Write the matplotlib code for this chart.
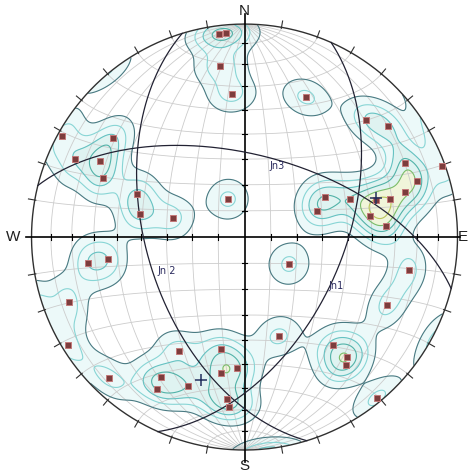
import numpy as np
import matplotlib.pyplot as plt
from matplotlib.patches import Circle

# poles to joints, lower hemisphere (trend, plunge in degrees)
pole_trend = [352.8, 354.8, 351.8, 355.0, 299.0, 307.0, 294.7, 297.8, 292.6, 291.8,
              282.4, 284.8, 336.5, 23.7, 46.1, 52.3, 65.3, 70.2, 72.0, 74.4,
              63.6, 70.2, 74.3, 75.4, 70.3, 80.5, 85.6, 260.6, 260.9, 249.7,
              238.6, 223.9, 209.9, 210.8, 209.9, 200.8, 191.8, 189.8, 186.2, 185.2,
              121.3, 101.4, 115.5, 160.8, 140.7, 139.5, 141.6, 140.6, 183.3]
pole_plunge = [4.5, 4.3, 20.0, 33.1, 2.4, 23.7, 13.5, 24.4, 28.8, 44.8,
               48.4, 61.6, 74.2, 29.0, 21.9, 15.9, 18.2, 1.7, 15.9, 22.8,
               55.3, 46.3, 36.1, 30.1, 60.4, 40.1, 33.8, 26.4, 35.4, 13.1,
               3.2, 9.1, 38.3, 24.5, 18.7, 26.1, 45.4, 35.5, 24.5, 21.0,
               70.1, 22.3, 26.8, 49.3, 34.8, 26.8, 24.3, 2.4, 38.4]

# joint sets drawn as great circles (strike RHR, dip)
set_names = ['Jn1', 'Jn 2', 'Jn3']
set_strike = [24, 163, 284]
set_dip = [52, 52, 58]

# mean markers
mean_trend = [196.9, 73.5]
mean_plunge = [30.6, 35.8]

density_levels = [0.45, 0.9, 1.35, 1.8, 2.25, 2.7]


def line_vec(trend, plunge):
    t = np.radians(trend)
    p = np.radians(plunge)
    return np.column_stack([np.cos(p) * np.sin(t), np.cos(p) * np.cos(t), np.sin(p)])


def project(v):
    # Lambert equal-area (Schmidt), lower hemisphere; v = (east, north, down)
    f = 1.0 / np.sqrt(1.0 + v[:, 2])
    return v[:, 0] * f, v[:, 1] * f


def plane_vecs(strike, dip, n=300):
    s = np.radians(strike)
    d = np.radians(dip)
    sv = np.array([np.sin(s), np.cos(s), 0.0])
    dv = np.array([np.cos(d) * np.sin(s + np.pi / 2), np.cos(d) * np.cos(s + np.pi / 2), np.sin(d)])
    rho = np.linspace(0, np.pi, n)
    return np.outer(np.cos(rho), sv) + np.outer(np.sin(rho), dv)


def small_circle_ns(alpha, n=300):
    a = np.radians(alpha)
    phi = np.linspace(0, np.pi, n)
    return np.column_stack([np.sin(a) * np.cos(phi), np.full(n, np.cos(a)), np.sin(a) * np.sin(phi)])


fig = plt.figure(figsize=(4.69, 4.76), dpi=100)
ax = fig.add_axes([0, 0, 1, 1])
ax.set_xlim(-1.148, 1.054)
ax.set_ylim(-1.122, 1.113)
ax.axis('off')

clip = Circle((0, 0), 1.0, transform=ax.transData)

# density (Fisher kernel, axial data)
g = np.linspace(-1, 1, 401)
GX, GY = np.meshgrid(g, g)
r2 = GX ** 2 + GY ** 2
inside = r2 <= 1.0
dd = 1.0 - np.clip(r2, 0, 1)
sq = np.sqrt(1.0 + dd)
gv = np.stack([GX * sq, GY * sq, dd], axis=-1).reshape(-1, 3)
P = line_vec(pole_trend, pole_plunge)
kappa = 91.0
dots = np.abs(gv @ P.T)
D = np.exp(kappa * (dots - 1.0)).sum(axis=1).reshape(GX.shape)
D = np.where(inside, D, np.nan)

cf = ax.contourf(GX, GY, D, levels=[0.45, 1.35, 2.25, 99],
                 colors=['#ecf9f9', '#dff3f1', '#f0f5da'], zorder=1)
cf.set_clip_path(clip)

# Schmidt net grid
grid_kw = dict(color='#cccccc', lw=0.6, zorder=2)
for dip in range(10, 90, 10):
    for strike in (0, 180):
        x, y = project(plane_vecs(strike, dip))
        ax.plot(x, y, **grid_kw)
for alpha in list(range(10, 90, 10)) + list(range(100, 180, 10)):
    x, y = project(small_circle_ns(alpha))
    ax.plot(x, y, **grid_kw)

line_colors = ['#4a7a82', '#88d5d5', '#66c2c2', '#52b2a8', '#78bc6c', '#bac459']
cs = ax.contour(GX, GY, D, levels=density_levels, colors=line_colors, linewidths=0.8, zorder=3)
cs.set_clip_path(clip)

# primitive and its ticks
th = np.linspace(0, 2 * np.pi, 720)
ax.plot(np.cos(th), np.sin(th), color='#303030', lw=1.0, zorder=5)
for az in range(0, 360, 10):
    if az % 90 == 0:
        continue
    a = np.radians(az)
    ax.plot([0.995 * np.sin(a), 1.03 * np.sin(a)], [0.995 * np.cos(a), 1.03 * np.cos(a)],
            color='#303030', lw=0.8, zorder=5)

# axes with 10 degree ticks
ax.plot([0, 0], [-1.056, 1.047], color='black', lw=1.2, zorder=5)
ax.plot([-1.026, 1.012], [0, 0], color='black', lw=1.2, zorder=5)
for t in range(10, 90, 10):
    r = np.sqrt(2) * np.sin(np.radians(t) / 2)
    for s in (-1, 1):
        ax.plot([s * r, s * r], [-0.012, 0.012], color='black', lw=0.8, zorder=5)
        ax.plot([-0.012, 0.012], [s * r, s * r], color='black', lw=0.8, zorder=5)

# joint-set great circles
for strike, dip in zip(set_strike, set_dip):
    x, y = project(plane_vecs(strike, dip))
    ax.plot(x, y, color='#222233', lw=0.9, zorder=6)

lab_pos = [(0.43, -0.23), (-0.365, -0.16), (0.155, 0.333)]
for name, (lx, ly) in zip(set_names, lab_pos):
    ax.text(lx, ly, name, fontsize=7, color='#2b2b5e', ha='center', va='center',
            fontfamily='DejaVu Sans', zorder=8)

# poles
px, py = project(P)
ax.plot(px, py, 's', ms=4.3, mfc='#7c3d3d', mec='#c47a7a', mew=0.7, zorder=7)

mx, my = project(line_vec(mean_trend, mean_plunge))
ax.plot(mx, my, '+', ms=9, color='#23305e', mew=1.1, zorder=7)

# compass labels
lab_kw = dict(fontsize=11, color='#202020', fontfamily='Liberation Sans', va='center')
ax.text(0, 1.062, 'N', ha='center', **lab_kw)
ax.text(0, -1.076, 'S', ha='center', **lab_kw)
ax.text(-1.085, 0.0, 'W', ha='center', **lab_kw)
ax.text(1.05, 0.0, 'E', ha='right', **lab_kw)

fig.savefig('out.png', dpi=100)
